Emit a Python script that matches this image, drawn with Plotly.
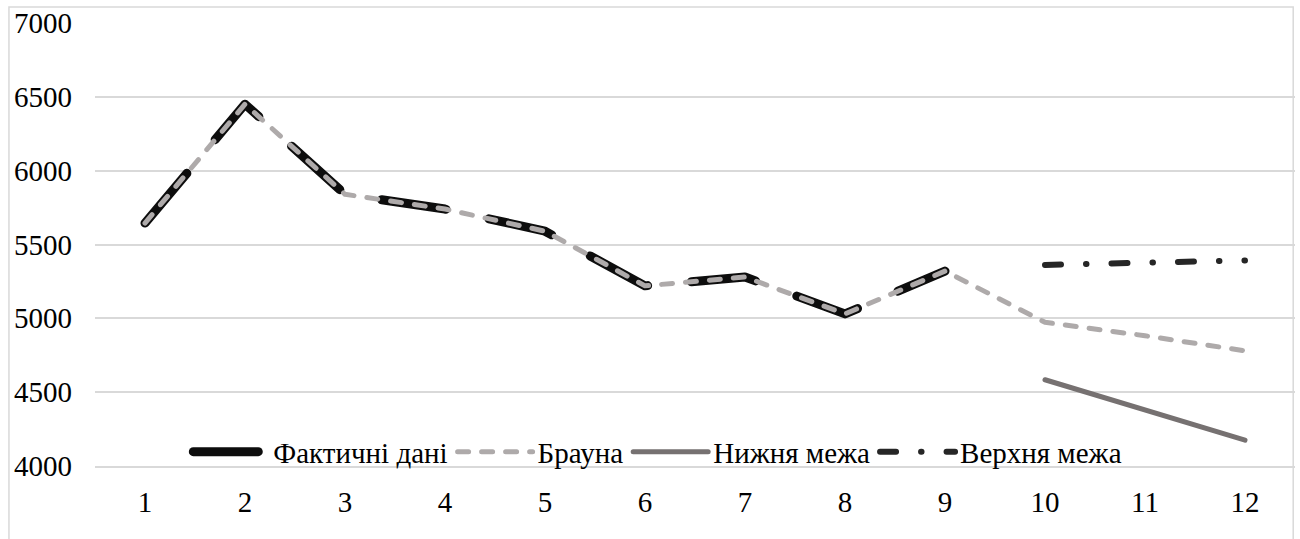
import plotly.graph_objects as go

# Periods and series values
periods = [1, 2, 3, 4, 5, 6, 7, 8, 9, 10, 11, 12]
actual = [5645, 6450, 5840, 5740, 5590, 5220, 5280, 5030, 5320]
brown = [5645, 6450, 5840, 5740, 5590, 5220, 5280, 5030, 5320, 4973, 4882, 4780]
lower = [None] * 9 + [4584, 4378, 4175]
upper = [None] * 9 + [5362, 5376, 5392]
y_ticks = [4000, 4500, 5000, 5500, 6000, 6500, 7000]

FONT = "Liberation Serif"
text_font = dict(family=FONT, size=29, color="#000000")

fig = go.Figure()
fig.add_trace(go.Scatter(
    x=periods[:len(actual)], y=actual, name="Фактичні дані", mode="lines",
    line=dict(color="#0d0d0d", width=9, dash="65px,44px"),
))
fig.add_trace(go.Scatter(
    x=periods, y=brown, name="Брауна", mode="lines",
    line=dict(color="#aeaaaa", width=5, dash="11px,13px"),
))
fig.add_trace(go.Scatter(
    x=periods, y=lower, name="Нижня межа", mode="lines",
    line=dict(color="#767171", width=5),
))
fig.add_trace(go.Scatter(
    x=periods, y=upper, name="Верхня межа", mode="lines",
    line=dict(color="#262626", width=6, dash="16px,25px,0.5px,25px"),
))

fig.update_layout(
    width=1300, height=539,
    margin=dict(l=95, r=5, t=23, b=73),
    paper_bgcolor="white", plot_bgcolor="white",
    font=text_font,
    showlegend=True,
    legend=dict(
        orientation="h", x=0.469, xanchor="center", y=0.032, yanchor="middle",
        bgcolor="rgba(0,0,0,0)", font=text_font,
        itemwidth=75, tracegroupgap=0,
    ),
    xaxis=dict(
        range=[0.5, 12.5], tickmode="array", tickvals=periods,
        ticktext=[str(p) for p in periods], tickfont=text_font,
        showgrid=False, zeroline=False, showline=True, linecolor="#d9d9d9",
        linewidth=1.5, ticks="", ticklabelstandoff=9,
    ),
    yaxis=dict(
        range=[4000, 7000], tickvals=y_ticks, tickfont=text_font, showgrid=True,
        gridcolor="#d9d9d9", gridwidth=1.5, zeroline=False, showline=False,
        ticks="", ticklabelstandoff=22,
    ),
    shapes=[dict(
        type="rect", xref="paper", yref="paper",
        x0=-0.0717, x1=0.9985, y0=-0.2, y1=1.036,
        line=dict(color="#d9d9d9", width=1.5), fillcolor="rgba(0,0,0,0)",
        layer="below",
    )],
)

round_caps = """
document.querySelectorAll('.scatterlayer path.js-line, .legend path.js-line')
  .forEach(function (p) { p.style.strokeLinecap = 'round'; p.style.strokeLinejoin = 'round'; });
"""

fig.write_html("out.html", post_script=round_caps)
